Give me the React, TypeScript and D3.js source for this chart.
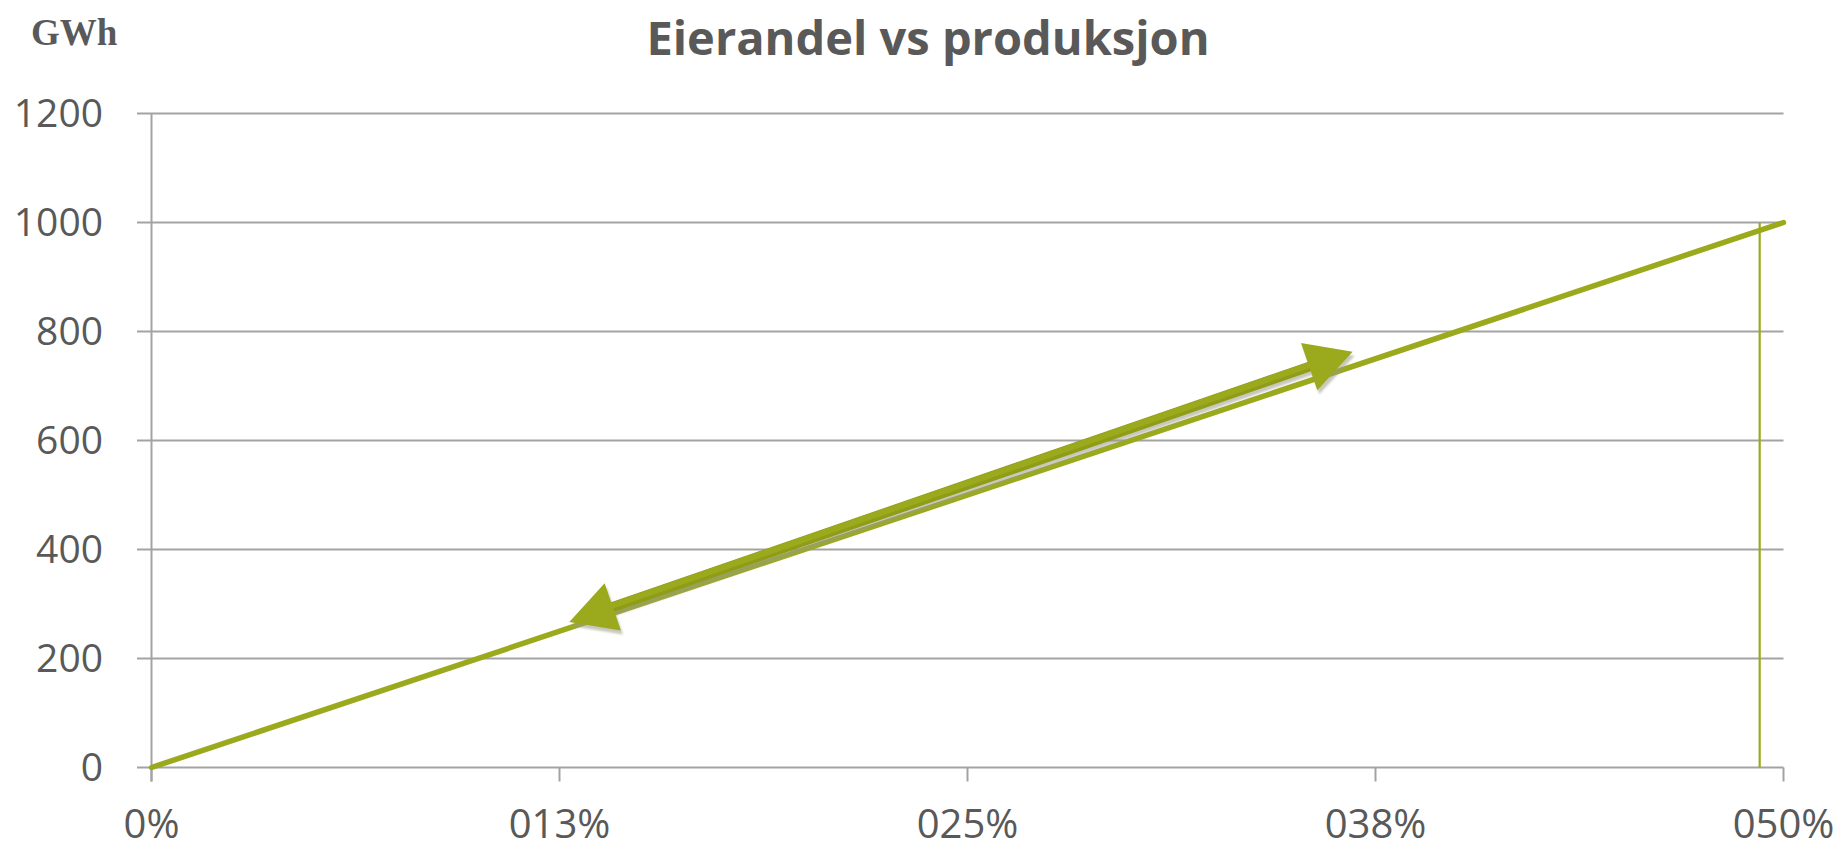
import React from "react";
import * as d3 from "d3";

// Eierandel (ownership share) vs produksjon (GWh)
const xTickValues = [0, 0.125, 0.25, 0.375, 0.5];
const xTickLabels = ["0%", "013%", "025%", "038%", "050%"];
const yTickValues = [0, 200, 400, 600, 800, 1000, 1200];

// main series: production grows linearly with ownership share
const shareX = [0, 0.5];
const productionY = [0, 1000];

// drop line at the right end
const dropX = [0.4927, 0.4927];
const dropY = [0, 1000];

// double-headed annotation arrow, in data units (share, GWh)
const arrowStart = [0.128, 267];
const arrowEnd = [0.368, 763];

const W = 1840;
const H = 849;
const GREEN = "#9BAA1C";
const GRID = "#A3A3A3";
const TEXT = "#595959";

export default function App() {
  const x = d3.scaleLinear().domain([0, 0.5]).range([151.5, 1783.5]);
  const y = d3.scaleLinear().domain([0, 1200]).range([767.5, 113.5]);

  const line = d3
    .line<[number, number]>()
    .x((d) => x(d[0]))
    .y((d) => y(d[1]));

  const mainPts = shareX.map((v, i) => [v, productionY[i]] as [number, number]);
  const dropPts = dropX.map((v, i) => [v, dropY[i]] as [number, number]);

  // arrow geometry in pixel space
  const ax0 = x(arrowStart[0]);
  const ay0 = y(arrowStart[1]);
  const ax1 = x(arrowEnd[0]);
  const ay1 = y(arrowEnd[1]);
  const len = Math.hypot(ax1 - ax0, ay1 - ay0);
  const ux = (ax1 - ax0) / len;
  const uy = (ay1 - ay0) / len;
  const px = -uy;
  const py = ux;
  const headLen = 46;
  const headHalf = 25;
  const head = (tx: number, ty: number, dir: number) => {
    const bx = tx + dir * ux * headLen;
    const by = ty + dir * uy * headLen;
    return [
      [tx, ty],
      [bx + px * headHalf, by + py * headHalf],
      [bx - px * headHalf, by - py * headHalf],
    ]
      .map((p) => p.join(","))
      .join(" ");
  };
  const sx0 = ax0 + ux * (headLen - 4);
  const sy0 = ay0 + uy * (headLen - 4);
  const sx1 = ax1 - ux * (headLen - 4);
  const sy1 = ay1 - uy * (headLen - 4);

  const font = "'Open Sans', 'Liberation Sans', sans-serif";

  return (
    <svg
      width={W}
      height={H}
      viewBox={`0 0 ${W} ${H}`}
      style={{ position: "absolute", left: 0, top: 0, display: "block", background: "#fff" }}
    >
      <defs>
        <filter id="soft" x="-5%" y="-20%" width="110%" height="140%">
          <feGaussianBlur stdDeviation="1.2" />
        </filter>
      </defs>

      {/* unit label */}
      <text
        x={31}
        y={45}
        fontFamily="'Liberation Serif', 'DejaVu Serif', serif"
        fontWeight="bold"
        fontSize={37}
        fill={TEXT}
      >
        GWh
      </text>

      {/* title */}
      <text
        x={928}
        y={55}
        textAnchor="middle"
        fontFamily={font}
        fontWeight="bold"
        fontSize={47}
        fill={TEXT}
      >
        Eierandel vs produksjon
      </text>

      {/* horizontal gridlines with left tick stubs */}
      {yTickValues.map((v) => (
        <g key={v}>
          <line x1={137} x2={x(0.5)} y1={y(v)} y2={y(v)} stroke={GRID} strokeWidth={2} />
          <text
            x={103}
            y={y(v)}
            dy="0.35em"
            textAnchor="end"
            fontFamily={font}
            fontSize={39}
            fill={TEXT}
          >
            {v}
          </text>
        </g>
      ))}

      {/* y axis */}
      <line x1={x(0)} x2={x(0)} y1={y(1200)} y2={y(0) + 14} stroke={GRID} strokeWidth={2} />

      {/* x ticks and labels */}
      {xTickValues.map((v, i) => (
        <g key={v}>
          <line x1={x(v)} x2={x(v)} y1={y(0)} y2={y(0) + 14} stroke={GRID} strokeWidth={2} />
          <text
            x={x(v)}
            y={838}
            textAnchor="middle"
            fontFamily={font}
            fontSize={40}
            fill={TEXT}
          >
            {xTickLabels[i]}
          </text>
        </g>
      ))}

      {/* drop line */}
      <path d={line(dropPts) || ""} stroke={GREEN} strokeWidth={2.2} fill="none" />

      {/* main series */}
      <path d={line(mainPts) || ""} stroke={GREEN} strokeWidth={5.5} fill="none" strokeLinecap="round" />

      {/* annotation arrow: shadow, shaft, heads */}
      <g filter="url(#soft)" opacity={0.55}>
        <line x1={sx0 + 2} y1={sy0 + 4} x2={sx1 + 2} y2={sy1 + 4} stroke="#9a9a8a" strokeWidth={9} />
        <polygon points={head(ax0 + 2, ay0 + 4, 1)} fill="#9a9a8a" />
        <polygon points={head(ax1 + 2, ay1 + 4, -1)} fill="#9a9a8a" />
      </g>
      <line x1={sx0} y1={sy0} x2={sx1} y2={sy1} stroke="#8E9C16" strokeWidth={10} />
      <line
        x1={sx0}
        y1={sy0 - 1.5}
        x2={sx1}
        y2={sy1 - 1.5}
        stroke={GREEN}
        strokeWidth={6}
      />
      <polygon points={head(ax0, ay0, 1)} fill={GREEN} />
      <polygon points={head(ax1, ay1, -1)} fill={GREEN} />
    </svg>
  );
}
